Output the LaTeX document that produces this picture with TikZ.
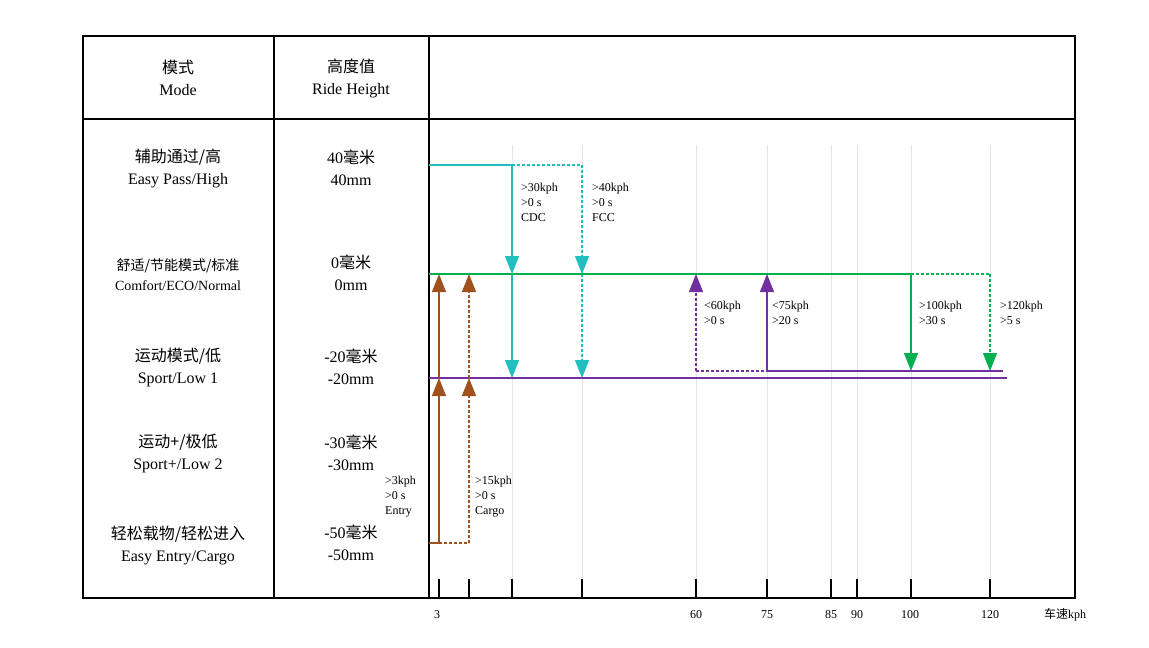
\documentclass[tikz,border=0pt]{standalone}
\usepackage{fontspec}
\setmainfont{Liberation Serif}
\newfontfamily\cjk{Noto Sans CJK SC}
\usetikzlibrary{arrows.meta}
\definecolor{cy}{HTML}{1FBFBF}
\definecolor{gr}{HTML}{00B050}
\definecolor{pu}{HTML}{7030A0}
\definecolor{br}{HTML}{A0521E}
\begin{document}
\begin{tikzpicture}[x=1pt,y=-1pt,
  tip/.style={-{Triangle[width=14pt,length=18pt]}},
  ln/.style={line width=1.4pt},
  dt/.style={line width=1.4pt,dash pattern=on 3pt off 2pt},
  lbl/.style={font=\fontsize{12}{15}\selectfont,align=left,anchor=north west,inner sep=0pt},
  row/.style={font=\fontsize{16}{22}\selectfont,align=center},
  tl/.style={font=\fontsize{12}{14}\selectfont}]
\useasboundingbox (0,0) rectangle (1149,648);
% grid
\foreach \x in {512,582,696,767,831,857,911,990}
  \draw[black!10,line width=0.8pt] (\x,145) -- (\x,598);
\draw[line width=1.2pt] (83,36) rectangle (1075,598);
\draw[line width=1.2pt] (83,119) -- (1075,119);
\draw[line width=1.2pt] (274,36) -- (274,598);
\draw[line width=1.2pt] (429,36) -- (429,598);
\foreach \x in {439,469,512,582,696,767,831,857,911,990}
  \draw[line width=1.2pt] (\x,579) -- (\x,598);
\foreach \x/\t in {437/3,696/60,767/75,831/85,857/90,910/100,990/120}
  \node[tl] (t\t) at (\x,615) {\t};
\node[tl] (unit) at (1065,615) {{\cjk 车速}kph};
% left text
\node[row] (m0) at (178,78) {{\cjk 模式}\\Mode};
\node[row] (h0) at (351,78) {{\cjk 高度值}\\Ride Height};
\node[row] (m1) at (178,168) {{\cjk 辅助通过/高}\\Easy Pass/High};
\node[row] (h1) at (351,168) {40{\cjk 毫米}\\40mm};
\node[row,font=\fontsize{14}{20}\selectfont] (m2) at (178,275) {{\cjk 舒适/节能模式/标准}\\Comfort/ECO/Normal};
\node[row] (h2) at (351,273) {0{\cjk 毫米}\\0mm};
\node[row] (m3) at (178,367) {{\cjk 运动模式/低}\\Sport/Low 1};
\node[row] (h3) at (351,367) {-20{\cjk 毫米}\\-20mm};
\node[row] (m4) at (178,453) {{\cjk 运动+/极低}\\Sport+/Low 2};
\node[row] (h4) at (351,453) {-30{\cjk 毫米}\\-30mm};
\node[row] (m5) at (178,545) {{\cjk 轻松载物/轻松进入}\\Easy Entry/Cargo};
\node[row] (h5) at (351,543) {-50{\cjk 毫米}\\-50mm};
% coordinates
\coordinate (a0) at (429,165); \coordinate (a1) at (512,165); \coordinate (a2) at (582,165);
\coordinate (b1) at (512,274); \coordinate (b2) at (582,274);
\coordinate (c1) at (512,378); \coordinate (c2) at (582,378);
% cyan
\draw[cy,ln] (a0) -- (a1);
\draw[cy,ln,tip] (a1) -- (b1);
\draw[cy,ln,tip] (b1) -- (c1);
\draw[cy,dt] (a1) -- (a2);
\draw[cy,dt,tip] (a2) -- (b2);
\draw[cy,dt,tip] (b2) -- (c2);
% green
\coordinate (g0) at (429,274); \coordinate (g1) at (911,274); \coordinate (g2) at (990,274);
\coordinate (g1d) at (911,371); \coordinate (g2d) at (990,371);
\draw[gr,ln] (g0) -- (g1);
\draw[gr,dt] (g1) -- (g2);
\draw[gr,ln,tip] (g1) -- (g1d);
\draw[gr,dt,tip] (g2) -- (g2d);
% purple
\coordinate (p0) at (429,378); \coordinate (p1) at (1007,378);
\coordinate (q0) at (696,371); \coordinate (q1) at (767,371); \coordinate (q2) at (1003,371);
\coordinate (q0u) at (696,274); \coordinate (q1u) at (767,274);
\draw[pu,ln] (p0) -- (p1);
\draw[pu,dt] (q0) -- (q1);
\draw[pu,ln] (q1) -- (q2);
\draw[pu,dt,tip] (q0) -- (q0u);
\draw[pu,ln,tip] (q1) -- (q1u);
% brown
\coordinate (e0) at (429,543); \coordinate (e1) at (439,543); \coordinate (e2) at (469,543);
\coordinate (f1) at (439,378); \coordinate (f2) at (469,378);
\coordinate (h1) at (439,274); \coordinate (h2) at (469,274);
\draw[br,ln] (e0) -- (e1);
\draw[br,ln,tip] (e1) -- (f1);
\draw[br,ln,tip] (f1) -- (h1);
\draw[br,dt] (e1) -- (e2);
\draw[br,dt,tip] (e2) -- (f2);
\draw[br,dt,tip] (f2) -- (h2);
% labels
\node[lbl] (l30) at (521,183) {>30kph\\>0 s\\CDC};
\node[lbl] (l40) at (592,183) {>40kph\\>0 s\\FCC};
\node[lbl] (l60) at (704,301) {<60kph\\>0 s};
\node[lbl] (l75) at (772,301) {<75kph\\>20 s};
\node[lbl] (l100) at (919,301) {>100kph\\>30 s};
\node[lbl] (l120) at (1000,301) {>120kph\\>5 s};
\node[lbl] (l3) at (385,476) {>3kph\\>0 s\\Entry};
\node[lbl] (l15) at (475,476) {>15kph\\>0 s\\Cargo};
\end{tikzpicture}
\end{document}
